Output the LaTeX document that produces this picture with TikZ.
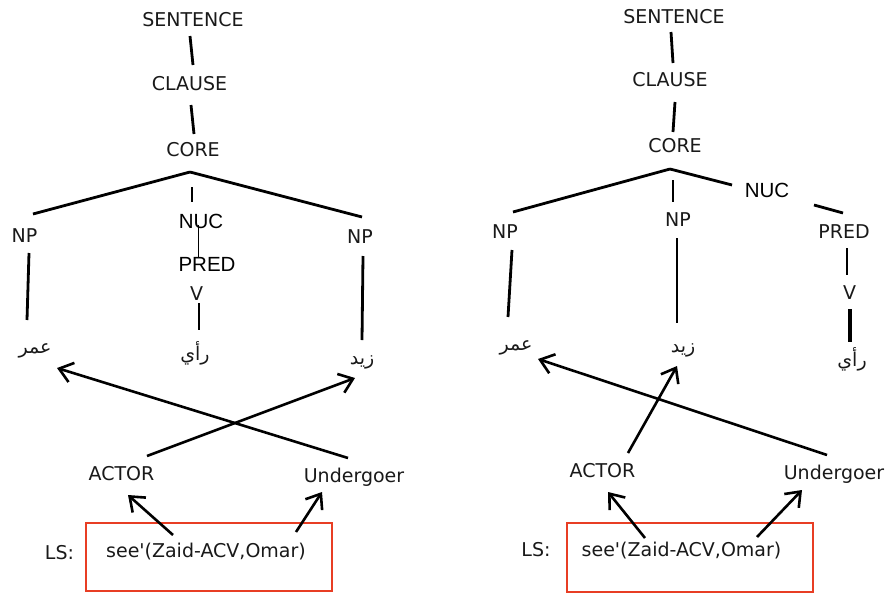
\documentclass[tikz,border=0pt]{standalone}
\usepackage{fontspec}
\usetikzlibrary{calc,arrows.meta}
\TeXXeTstate=1
\newfontfamily\dvfont{DejaVu Sans}
\newfontfamily\arialfont{Liberation Sans}
\newfontfamily\arabicfont[Script=Arabic]{DejaVu Sans}
\definecolor{boxred}{RGB}{232,62,36}
\definecolor{txt}{RGB}{25,25,25}
\tikzset{
  lab/.style={font=\dvfont\fontsize{19}{22}\selectfont, text=txt, inner sep=0pt},
  arl/.style={font=\arialfont\fontsize{20.5}{24}\selectfont, inner sep=0pt},
  arw/.style={font=\arabicfont\fontsize{19}{22}\selectfont, text=txt, inner sep=0pt},
  tl/.style={line width=2.8pt},
  thin/.style={line width=1pt},
  arr/.style={line width=2.6pt, -{Straight Barb[length=13pt,width=20pt,line width=2.6pt]}},
  lsbox/.style={draw=boxred, line width=1.3pt, inner sep=0pt},
}
\newcommand{\ar}[1]{\beginR #1\endR}
\begin{document}
\begin{tikzpicture}[x=1pt,y=-1pt]
\useasboundingbox (0,0) rectangle (888,592);
% ---------- left tree ----------
\node[lab] (sen1) at (193,20) {SENTENCE};
\node[lab] (cla1) at (189.5,84) {CLAUSE};
\node[lab] (core1) at (193,150) {CORE};
\coordinate (j1) at ($(core1)+(-3,22)$);
\node[lab] (npa1) at (24.5,235.5) {NP};
\node[lab] (npb1) at (360,237) {NP};
\node[arl] (nuc1) at (201,221) {NUC};
\node[arl] (pred1) at (207,264) {PRED};
\node[lab] (v1) at (196.5,293.5) {V};
\node[arw] (omar1) at (35,351) {\ar{عمر}};
\node[arw] (ra1) at (195,353) {\ar{رأي}};
\node[arw] (zaid1) at (362,362) {\ar{زيد}};
\node[lab] (actor1) at (121.5,474) {ACTOR};
\node[lab] (und1) at (354,477) {Undergoer};
\node[lab] (ls1) at (59.5,552.5) {LS:};
\node[lsbox, minimum width=246pt, minimum height=68pt] (box1) at (209,557) {};
\node[lab] (see1) at (206,552) {see'(Zaid-ACV,Omar)};

\draw[tl] ($(sen1)+(-3,16)$) -- ($(cla1)+(3.5,-19)$);
\draw[tl] ($(cla1)+(1.5,21)$) -- ($(core1)+(1,-16)$);
\draw[tl] (j1) -- ($(npa1)+(8.5,-21.5)$);
\draw[tl] (j1) -- ($(npb1)+(2,-20)$);
\draw[tl] ($(j1)+(2,15)$) -- ($(nuc1)+(-9,-19)$);
\draw[thin] ($(nuc1)+(-3,4)$) -- ($(pred1)+(-9,-7)$);
\draw[tl] ($(v1)+(2.5,9.5)$) -- ($(ra1)+(4,-23)$);
\draw[tl] ($(npa1)+(4.5,17.5)$) -- ($(omar1)+(-8,-31)$);
\draw[tl] ($(npb1)+(3,19)$) -- ($(zaid1)+(0,-22)$);

\draw[arr] ($(und1)+(-6,-19)$) -- ($(omar1)+(22,17)$);
\draw[arr] ($(actor1)+(25.5,-18)$) -- ($(zaid1)+(-7,16)$);
\draw[arr] ($(box1)+(-36,-22)$) -- ($(actor1)+(6.5,21)$);
\draw[arr] ($(box1)+(87,-25)$) -- ($(und1)+(-32,15)$);

% ---------- right tree ----------
\node[lab] (sen2) at (674,16.5) {SENTENCE};
\node[lab] (cla2) at (670,80) {CLAUSE};
\node[lab] (core2) at (675,146) {CORE};
\coordinate (j2) at ($(core2)+(-5,23)$);
\node[lab] (npa2) at (505,232) {NP};
\node[lab] (npm2) at (678,219.5) {NP};
\node[arl] (nuc2) at (767,190) {NUC};
\node[lab] (pred2) at (844,232) {PRED};
\node[lab] (v2) at (849.5,293) {V};
\node[arw] (omar2) at (516,348) {\ar{عمر}};
\node[arw] (zaid2) at (683,350) {\ar{زيد}};
\node[arw] (ra2) at (852,359) {\ar{رأي}};
\node[lab] (actor2) at (602.5,471) {ACTOR};
\node[lab] (und2) at (834,474) {Undergoer};
\node[lab] (ls2) at (536,550) {LS:};
\node[lsbox, minimum width=246pt, minimum height=69pt] (box2) at (690,557.5) {};
\node[lab] (see2) at (681.5,551) {see'(Zaid-ACV,Omar)};

\draw[tl] ($(sen2)+(-3,15.5)$) -- ($(cla2)+(3,-17)$);
\draw[tl] ($(cla2)+(5,22)$) -- ($(core2)+(-2,-14)$);
\draw[tl] (j2) -- ($(npa2)+(8,-20)$);
\draw[tl] ($(j2)+(3,11)$) -- ($(npm2)+(-5,-17.5)$);
\draw[tl] (j2) -- ($(nuc2)+(-35,-5)$);
\draw[tl] ($(nuc2)+(47,15)$) -- ($(pred2)+(-1,-19)$);
\draw[tl] ($(pred2)+(3,16)$) -- ($(v2)+(-2.5,-18)$);
\draw[line width=4pt] ($(v2)+(0.5,16)$) -- ($(ra2)+(-2,-17)$);
\draw[tl] ($(npa2)+(7,18)$) -- ($(omar2)+(-8,-31)$);
\draw[tl] ($(npm2)+(-1,18.5)$) -- ($(zaid2)+(-6,-27)$);

\draw[arr] ($(actor2)+(25.5,-18)$) -- ($(zaid2)+(-6,16)$);
\draw[arr] ($(und2)+(-7,-19)$) -- ($(omar2)+(22,11)$);
\draw[arr] ($(box2)+(-45,-19.5)$) -- ($(actor2)+(5.5,21)$);
\draw[arr] ($(box2)+(67,-20.5)$) -- ($(und2)+(-32,16)$);
\end{tikzpicture}
\end{document}
